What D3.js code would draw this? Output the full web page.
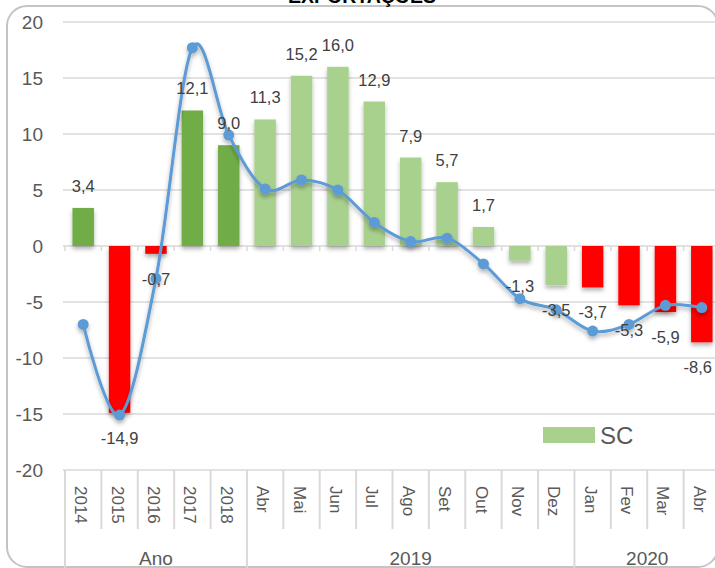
<!DOCTYPE html>
<html>
<head>
<meta charset="utf-8">
<script src="https://cdn.jsdelivr.net/npm/d3@7/dist/d3.min.js"></script>
<style>
  html, body { margin: 0; padding: 0; background: #fff; }
  svg { display: block; font-family: "Liberation Sans", Arial, sans-serif; }
</style>
</head>
<body>
<svg id="chart" width="715" height="568"></svg>
<script>
// Category labels (bottom level) and their group (top level)
const categories = ["2014","2015","2016","2017","2018","Abr","Mai","Jun","Jul","Ago","Set","Out","Nov","Dez","Jan","Fev","Mar","Abr"];
const groups = [
  { label: "Ano",  from: 0,  to: 4 },
  { label: "2019", from: 5,  to: 13 },
  { label: "2020", from: 14, to: 17 }
];
// Bar values (SC, % variation)
const barValues = [3.4, -14.9, -0.7, 12.1, 9.0, 11.3, 15.2, 16.0, 12.9, 7.9, 5.7, 1.7, -1.3, -3.5, -3.7, -5.3, -5.9, -8.6];
// Colour class for each bar
const barKinds = ["ano","neg","neg","ano","ano","sc","sc","sc","sc","sc","sc","sc","sc","sc","neg","neg","neg","neg"];
// Comparison line values
const lineValues = [-7.0, -15.1, -2.9, 17.7, 9.9, 5.1, 5.9, 5.0, 2.1, 0.4, 0.7, -1.6, -4.7, -5.7, -7.6, -7.0, -5.3, -5.5];
const yTicks = [20, 15, 10, 5, 0, -5, -10, -15, -20];
const legendLabel = "SC";
const title = "EXPORTAÇÕES";

const colors = { ano: "#70ad47", sc: "#a9d18e", neg: "#ff0000", line: "#5b9bd5" };

const svg = d3.select("#chart");
const W = 715, H = 568;
const plot = { left: 65, right: 720, top: 22, bottom: 470 };

const defs = svg.append("defs");
const sh = defs.append("filter").attr("id", "shadow")
  .attr("x", "-30%").attr("y", "-30%").attr("width", "160%").attr("height", "160%");
sh.append("feDropShadow").attr("dx", 0).attr("dy", 3).attr("stdDeviation", 2)
  .attr("flood-color", "#000").attr("flood-opacity", 0.3);

// chart frame
svg.append("rect")
  .attr("x", 7).attr("y", 6).attr("width", 711).attr("height", 561)
  .attr("rx", 20).attr("ry", 20)
  .attr("fill", "#fff").attr("stroke", "#c4c4c4").attr("stroke-width", 2);

// title (sits above the frame, partly outside the page)
svg.append("text")
  .attr("x", 362).attr("y", 3)
  .attr("text-anchor", "middle")
  .attr("font-weight", "bold").attr("font-size", 19.5)
  .attr("fill", "#000")
  .text(title);

const idx = d3.range(categories.length);
const x = d3.scaleBand().domain(idx).range([plot.left, plot.right])
  .paddingInner(0.41).paddingOuter(0.205);
const y = d3.scaleLinear().domain([-20, 20]).range([plot.bottom, plot.top]);

// gridlines
svg.append("g").selectAll("line").data(yTicks).join("line")
  .attr("x1", plot.left - 2).attr("x2", W)
  .attr("y1", d => y(d)).attr("y2", d => y(d))
  .attr("stroke", "#d9d9d9").attr("stroke-width", 1.5);

// y axis labels
svg.append("g").selectAll("text").data(yTicks).join("text")
  .attr("x", 43).attr("y", d => y(d))
  .attr("dy", "0.35em")
  .attr("text-anchor", "end")
  .attr("font-size", 19).attr("fill", "#595959")
  .text(d => d);

// small ticks on the zero line at category boundaries
const step = x.step();
const bounds = d3.range(categories.length + 1).map(i => plot.left + i * step);
svg.append("g").selectAll("line").data(bounds).join("line")
  .attr("x1", d => d).attr("x2", d => d)
  .attr("y1", y(0)).attr("y2", y(0) + 5)
  .attr("stroke", "#d9d9d9").attr("stroke-width", 1.5);

// bars
svg.append("g").attr("filter", "url(#shadow)")
  .selectAll("rect").data(idx).join("rect")
  .attr("x", i => x(i))
  .attr("width", x.bandwidth())
  .attr("y", i => Math.min(y(barValues[i]), y(0)))
  .attr("height", i => Math.abs(y(barValues[i]) - y(0)))
  .attr("fill", i => colors[barKinds[i]]);

// smoothed line with markers
const line = d3.line()
  .x(i => x(i) + x.bandwidth() / 2)
  .y(i => y(lineValues[i]))
  .curve(d3.curveCardinal.tension(0));
const lg = svg.append("g").attr("filter", "url(#shadow)");
lg.append("path").datum(idx)
  .attr("d", line)
  .attr("fill", "none").attr("stroke", colors.line).attr("stroke-width", 3);
lg.selectAll("circle").data(idx).join("circle")
  .attr("cx", i => x(i) + x.bandwidth() / 2)
  .attr("cy", i => y(lineValues[i]))
  .attr("r", 5.5)
  .attr("fill", colors.line);

// data labels (comma decimal, plain hyphen for negatives)
const fmt = v => d3.format(".1f")(v).replace(".", ",").replace("\u2212", "-");
const labels = svg.append("g").selectAll("text").data(idx).join("text")
  .attr("x", i => x(i) + x.bandwidth() / 2)
  .attr("y", i => barValues[i] >= 0 ? y(barValues[i]) - 16 : y(barValues[i]) + 31)
  .attr("text-anchor", "middle")
  .attr("font-size", 16.5).attr("fill", "#404040")
  .text(i => fmt(barValues[i]));
// keep labels inside the right edge
labels.each(function () {
  const w = this.getComputedTextLength();
  const cx = +this.getAttribute("x");
  if (cx + w / 2 > W - 3) this.setAttribute("x", W - 3 - w / 2);
});

// category axis: separators
const axisTop = plot.bottom;
const groupEdges = new Set([0, ...groups.map(g => g.to + 1)]);
svg.append("g").selectAll("line").data(bounds.map((b, i) => ({ b, i }))).join("line")
  .attr("x1", d => d.b).attr("x2", d => d.b)
  .attr("y1", axisTop)
  .attr("y2", d => groupEdges.has(d.i) ? H : 529)
  .attr("stroke", "#d9d9d9").attr("stroke-width", 2);

// category labels (rotated)
svg.append("g").selectAll("text").data(idx).join("text")
  .attr("transform", i => `translate(${x(i) + x.bandwidth() / 2 - 2},486) rotate(90)`)
  .attr("dy", "0.35em")
  .attr("text-anchor", "start")
  .attr("font-size", 17).attr("fill", "#595959")
  .text(i => categories[i]);

// group labels
svg.append("g").selectAll("text").data(groups).join("text")
  .attr("x", g => (bounds[g.from] + bounds[g.to + 1]) / 2)
  .attr("y", 565)
  .attr("text-anchor", "middle")
  .attr("font-size", 19).attr("fill", "#595959")
  .text(g => g.label);

// legend
const leg = svg.append("g");
leg.append("rect").attr("x", 543).attr("y", 427).attr("width", 52).attr("height", 16)
  .attr("fill", colors.sc);
leg.append("text").attr("x", 600).attr("y", 444)
  .attr("font-size", 24).attr("fill", "#595959")
  .text(legendLabel);
</script>
</body>
</html>
